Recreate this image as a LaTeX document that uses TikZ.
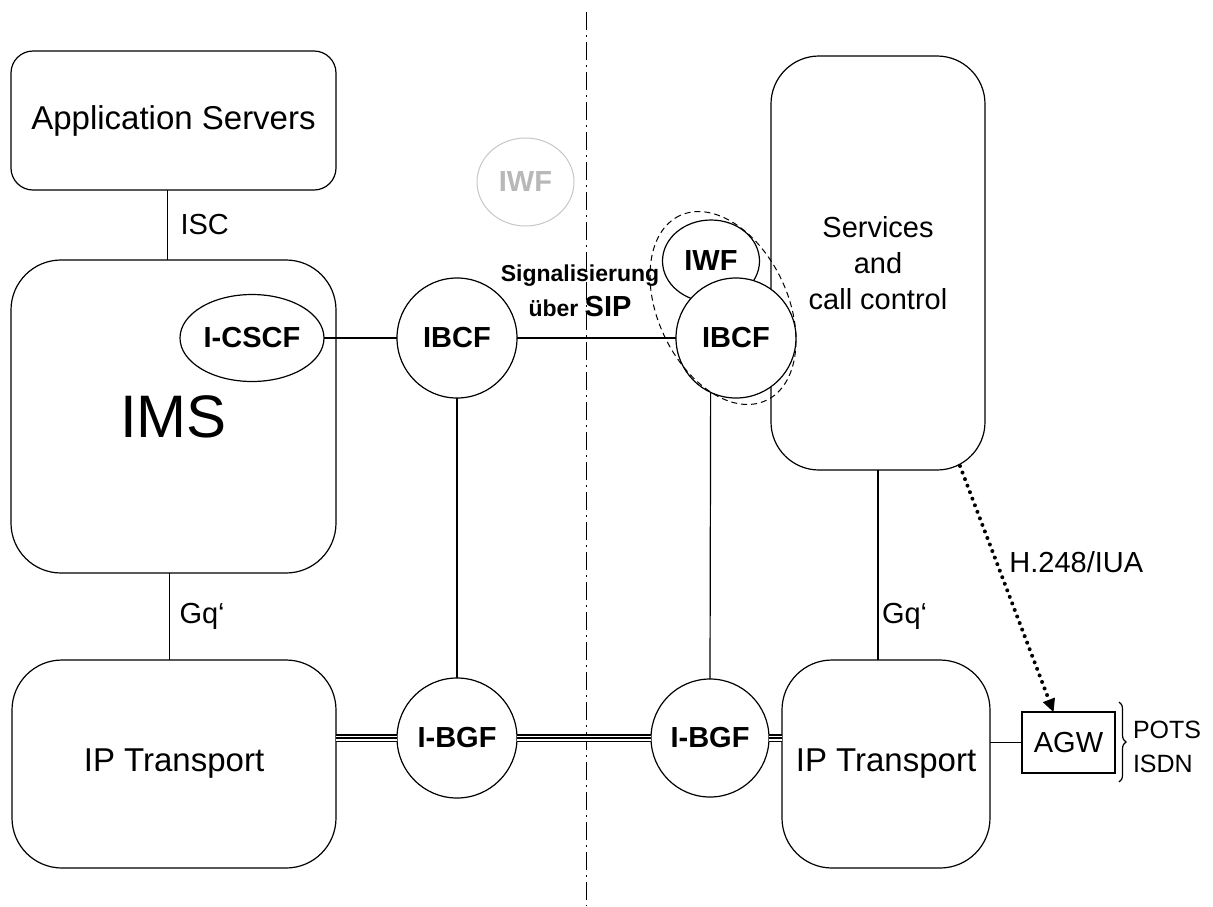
\documentclass[tikz,border=0pt]{standalone}
\usepackage{fontspec}
\setmainfont{Liberation Sans}
\usetikzlibrary{shapes.geometric, arrows.meta, decorations.pathreplacing}

\begin{document}
\begin{tikzpicture}[x=1pt, y=-1pt, line width=1.2pt,
    every node/.style={inner sep=0pt, outer sep=0pt},
    box/.style={draw, fill=white, rounded corners=#1},
    box/.default=50pt,
    big/.style={font=\fontsize{33}{38}\selectfont},
    lbl/.style={font=\fontsize{29}{36}\selectfont},
    fn/.style={draw, circle, fill=white, minimum size=120pt, font=\fontsize{29}{34}\selectfont\bfseries},
    trunk/.style={line width=8pt, postaction={draw, white, line width=5pt}, postaction={draw, black, line width=1.3pt}},
    ctrl/.style={line width=4pt, line cap=round, dash pattern=on 0pt off 7pt, -{Triangle[length=13pt, width=13pt, line width=0pt]}},
    border/.style={line width=1pt, dash pattern=on 18pt off 5pt on 1.5pt off 5.5pt}]
    \useasboundingbox (0,0) rectangle (1213,906);
    \coordinate (top) at (586,12);
    \coordinate (bot) at (586,906);
    \draw[border] (top) -- (bot);

    \node[box=22pt, big, minimum width=325pt, minimum height=139pt] (as) at (173.5,120.5) {Application Servers};
    \node[box, minimum width=325pt, minimum height=313pt, font=\fontsize{60}{70}\selectfont] (ims) at (173.5,416.5) {IMS};
    \node[box, big, minimum width=324pt, minimum height=208pt] (iptl) at (174,764) {IP Transport};
    \node[box=48pt, lbl, align=center, minimum width=214pt, minimum height=414pt] (scc) at (878,263) {Services\\and\\call control};
    \node[box, big, minimum width=208pt, minimum height=208pt] (iptr) at (886,764) {IP Transport};
    \node[draw, lbl, minimum width=93pt, minimum height=61pt] (agw) at (1068.5,742.5) {AGW};

    \node[fn, ellipse, minimum width=144pt, minimum height=87pt] (icscf) at (252,338) {I-CSCF};
    \node[fn] (ibcfl) at (457,338) {IBCF};
    \node[fn, ellipse, line width=1pt, draw=black!22, text=black!28, minimum width=97pt, minimum height=88pt] (iwfg) at (525.5,182) {IWF};
    \node[fn, ellipse, minimum width=97pt, minimum height=82pt] (iwf) at (711,261) {IWF};
    \node[fn] (ibcfr) at (736,338) {IBCF};
    \node[ellipse, draw, line width=1pt, dash pattern=on 6pt off 4pt, rotate=115, minimum width=204pt, minimum height=130pt] (grp) at (723,308) {};
    \node[fn] (ibgfl) at (457,738) {I-BGF};
    \node[fn, minimum size=118pt] (ibgfr) at (710,738) {I-BGF};

    \node[font=\fontsize{23}{35}\selectfont\bfseries, align=center] (sig) at (580,291) {Signalisierung\\über {\fontsize{29}{35}\selectfont SIP}};

    \draw ([xshift=-6pt]as.south) -- ([xshift=-6pt]ims.north) node[midway, right=13pt, lbl] {ISC};
    \draw ([xshift=-4pt]ims.south) -- ([xshift=-4pt]ims.south |- iptl.north) node[midway, right=10pt, lbl] {Gq‘};
    \draw (icscf) -- (ibcfl);
    \draw (ibcfl) -- (ibcfr);
    \draw (ibcfl) -- (ibgfl);
    \draw (ibcfr.245) -- (ibgfr.north);
    \draw (scc.south) -- (scc.south |- iptr.north) node[pos=0.77, right=4pt, lbl] {Gq‘};
    \draw (agw.west) -- (agw.west -| iptr.east);
    \draw[trunk] (ibgfl.west -| iptl.east) -- (ibgfl.west);
    \draw[trunk] (ibgfl) -- (ibgfr);
    \draw[trunk] (ibgfr.east) -- (ibgfr.east -| iptr.west);

    \coordinate (h248) at (960,466);
    \draw[ctrl] (h248) -- ([xshift=-15pt]agw.north) node[pos=0.39, right=13pt, lbl] {H.248/IUA};
    \draw[decorate, decoration={brace, amplitude=7pt}] (1119,702) -- (1119,782);
    \node[font=\fontsize{25}{34}\selectfont, align=left, anchor=west] (lines) at (1133,747) {POTS\\ISDN};
\end{tikzpicture}
\end{document}
